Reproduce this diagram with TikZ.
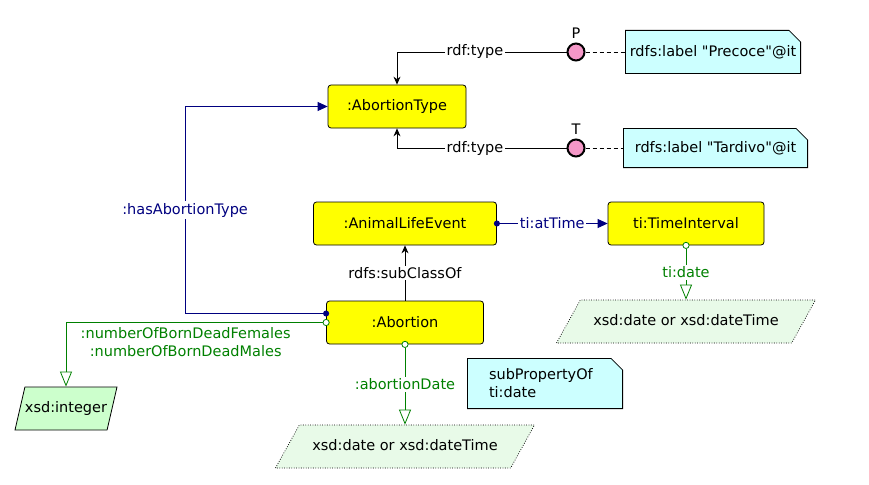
\documentclass[tikz,border=0pt]{standalone}
\usepackage{fontspec}
\setmainfont{DejaVu Sans}
\usetikzlibrary{arrows.meta,shapes.geometric}
\definecolor{clsyellow}{RGB}{255,255,0}
\definecolor{notecyan}{RGB}{204,255,255}
\definecolor{indpink}{RGB}{245,152,200}
\definecolor{objnavy}{RGB}{0,0,128}
\definecolor{dtgreen}{RGB}{0,128,0}
\definecolor{litfill}{RGB}{232,250,232}
\definecolor{intfill}{RGB}{204,255,204}
\tikzset{
 cls/.style={rectangle,rounded corners=3pt,draw,line width=.8pt,fill=clsyellow,minimum height=43pt,inner sep=0},
 indiv/.style={circle,draw,line width=2pt,fill=indpink,minimum size=17pt,inner sep=0,label distance=5pt},
 note/.style={fill=notecyan,inner ysep=0,minimum height=44pt,align=left,path picture={
   \fill[white] ([xshift=-12pt]path picture bounding box.north east) -- (path picture bounding box.north east) -- ([yshift=-12pt]path picture bounding box.north east) -- cycle;
   \draw[line width=.8pt] ([shift={(.4pt,-.4pt)}]path picture bounding box.north west) -- ([shift={(-12pt,-.4pt)}]path picture bounding box.north east) -- ([shift={(-.4pt,-12pt)}]path picture bounding box.north east) -- ([shift={(-.4pt,.4pt)}]path picture bounding box.south east) -- ([shift={(.4pt,.4pt)}]path picture bounding box.south west) -- cycle;
 }},
 lit/.style={trapezium,trapezium left angle=61,trapezium right angle=119,trapezium stretches body,draw,dash pattern=on .8pt off 1.6pt,line width=.7pt,fill=litfill,text height=11pt,text depth=3pt,inner ysep=14.5pt,minimum width=259pt,inner xsep=0},
 intlit/.style={trapezium,trapezium left angle=77,trapezium right angle=103,trapezium stretches body,draw,line width=.8pt,fill=intfill,text height=11pt,text depth=3pt,inner ysep=14.5pt,minimum width=102pt,inner xsep=0},
 rdftype/.style={line width=.8pt,-{Stealth[length=8pt,width=7pt]}},
 objprop/.style={color=objnavy,line width=.8pt,{Circle[length=6pt]}-{Triangle[length=10pt,width=9pt]},shorten <=-3pt},
 dtprop/.style={color=dtgreen,line width=.8pt,{Circle[open,fill=white,length=7pt]}-{Triangle[open,length=15pt,width=12pt]},shorten <=-3.5pt},
 notelink/.style={line width=.8pt,dash pattern=on 4pt off 3pt},
 elabel/.style={fill=white,inner sep=1.5pt}
}

\begin{document}
\begin{tikzpicture}[x=1pt,y=-1pt,every node/.append style={font=\fontsize{14.5}{18}\selectfont}]
\path[use as bounding box] (0,0) rectangle (869,484);
% classes
\node[cls,minimum width=138pt] (abty) at (397,106.5) {:AbortionType};
\node[cls,minimum width=183pt] (ale) at (405,223.5) {:AnimalLifeEvent};
\node[cls,minimum width=156pt] (tint) at (686,223.5) {ti:TimeInterval};
\node[cls,minimum width=157pt] (abort) at (405,322.5) {:Abortion};
% individuals and notes
\node[indiv,label={[name=Plbl]above:P}] (P) at (576,52) {};
\node[indiv,label={[name=Tlbl]above:T}] (T) at (576,148) {};
\node[note,minimum width=176pt] (noteP) at (713,52) {rdfs:label \textquotedbl Precoce\textquotedbl @it};
\node[note,minimum width=185pt,minimum height=40pt] (noteT) at (715.5,148) {rdfs:label \textquotedbl Tardivo\textquotedbl @it};
\node[note,text width=112pt,inner xsep=22pt,minimum height=51pt] (noteSub) at (545,383.5) {subPropertyOf\\ti:date};
% datatypes
\node[lit] (dtR) at (686,321.5) {xsd:date or xsd:dateTime};
\node[lit] (dtL) at (405,446.5) {xsd:date or xsd:dateTime};
\node[intlit] (dtInt) at (66,408.5) {xsd:integer};
% links
\draw[rdftype] (P) -| (abty) node[elabel,pos=.27] (lblP) {rdf:type};
\draw[rdftype] (T) -| (abty) node[elabel,pos=.27] (lblT) {rdf:type};
\draw[notelink] (P) -- (noteP);
\draw[notelink] (T) -- (noteT);
\draw[rdftype] (abort) -- (ale) node[elabel,midway] (lblsub) {rdfs:subClassOf};
\draw[objprop] (ale) -- (tint) node[elabel,midway] (lblat) {ti:atTime};
\draw[objprop] ([yshift=9pt]abort.west) -- ++(-141,0) |- (abty) node[elabel,pos=.25] (lblhas) {:hasAbortionType};
\draw[dtprop] (tint) -- (dtR) node[elabel,midway] (lbltd) {ti:date};
\draw[dtprop] (abort) -- (dtL) node[elabel,midway] (lblad) {:abortionDate};
\draw[dtprop] (abort.west) -| (dtInt) node[pos=.27,below=1pt,align=center] (lblnum) {:numberOfBornDeadFemales\\:numberOfBornDeadMales};
\end{tikzpicture}
\end{document}
